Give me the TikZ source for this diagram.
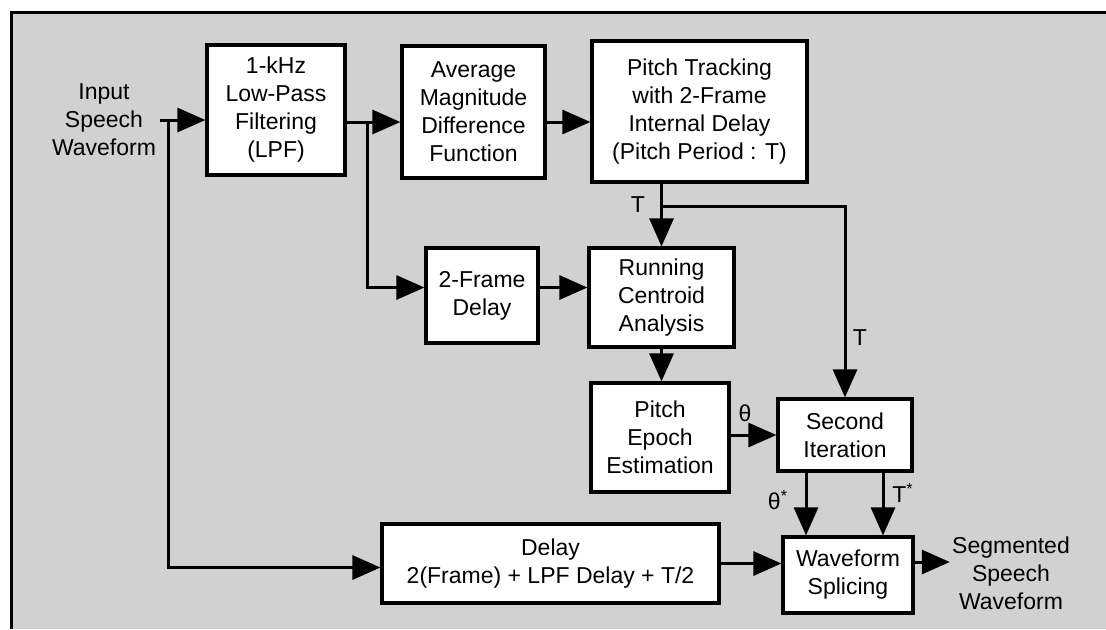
\documentclass[tikz,border=0pt]{standalone}
\usepackage{fontspec}
\setmainfont{Liberation Sans}
\usepackage{tikz}
\usetikzlibrary{arrows.meta}
\usetikzlibrary{calc}

\begin{document}
\begin{tikzpicture}[x=0.5pt,y=-0.5pt,
    block/.style={draw,fill=white,line width=1.6pt,align=center,inner sep=0pt,
        font=\fontsize{11.5}{14}\selectfont},
    lbl/.style={align=center,inner sep=0pt,font=\fontsize{11.5}{14}\selectfont},
    arr/.style={line width=1.5pt,-{Triangle[length=14pt,width=12pt]}}]
    \useasboundingbox (0,0) rectangle (1106,629);
    \fill[black!18] (11,12) rectangle (1106,629);
    \draw[line width=1.5pt] (11,629) -- (11,12) -- (1106,12);

    % blocks
    \node[block,minimum width=69pt,minimum height=65pt] (lpf) at (276,110) {1-kHz\\Low-Pass\\Filtering\\(LPF)};
    \node[block,minimum width=71.5pt,minimum height=66pt] (amdf) at (473.5,112) {Average\\Magnitude\\Difference\\Function};
    \node[block,minimum width=107.5pt,minimum height=70.5pt] (track) at (699.5,111.5) {Pitch Tracking\\with 2-Frame\\Internal Delay\\(Pitch Period : T)};
    \node[block,minimum width=56pt,minimum height=47.5pt] (fdelay) at (482,295.5) {2-Frame\\Delay};
    \node[block,minimum width=72.5pt,minimum height=49.5pt] (centroid) at (661.5,297.5) {Running\\Centroid\\Analysis};
    \node[block,minimum width=69pt,minimum height=54.5pt] (epoch) at (660,437.5) {Pitch\\Epoch\\Estimation};
    \node[block,minimum width=67pt,minimum height=36pt] (second) at (845,435) {Second\\Iteration};
    \node[block,minimum width=65pt,minimum height=38pt] (splice) at (848,575) {Waveform\\Splicing};
    \node[block,minimum width=168.5pt,minimum height=39.5pt] (delay) at (550.5,563.5) {Delay\\2(Frame) + LPF Delay + T/2};

    % input and output
    \node[lbl] (in) at (104,120) {Input\\Speech\\Waveform};
    \node[lbl] (out) at (1011,573) {Segmented\\Speech\\Waveform};

    % labels
    \node[lbl] (tA) at (638,205) {T};
    \node[lbl] (tB) at (860,338) {T};
    \node[lbl] (th) at (745,413) {θ};
    \node[lbl] (thstar) at (778,500) {θ\textsuperscript{*}};
    \node[lbl] (tstar) at (903,493) {T\textsuperscript{*}};

    % taps
    \coordinate (tap1) at (168,120);
    \coordinate (tap2) at (367,122);
    \coordinate (tj) at (661.5,206);

    % connectors
    \draw[arr] ([xshift=2pt]in.east) -- (in.east -| lpf.west);
    \draw[arr] (tap1) |- ([yshift=-2pt]delay.west);
    \draw[arr] ([yshift=-6pt]lpf.east) -- ([yshift=-6pt]lpf.east -| amdf.west);
    \draw[arr] (tap2) |- ([yshift=4pt]fdelay.west);
    \draw[arr] ([yshift=-5pt]amdf.east) -- ([yshift=-5pt]amdf.east -| track.west);
    \draw[arr] ([yshift=4pt]fdelay.east) -- ([yshift=4pt]fdelay.east -| centroid.west);
    \draw[arr] (track.south -| centroid.north) -- (centroid.north);
    \draw[arr] (tj) -| (second.north);
    \draw[arr] (centroid.south) -- (centroid.south |- epoch.north);
    \draw[arr] (epoch.east |- second.west) -- (second.west);
    \draw[arr] ([xshift=-19.5pt]second.south) -- ([xshift=-19.5pt]second.south |- splice.north);
    \draw[arr] ([xshift=19pt]second.south) -- ([xshift=19pt]second.south |- splice.north);
    \draw[arr] (delay.east) -- (delay.east -| splice.west);
    \draw[arr] ([yshift=6.5pt]splice.east) -- ([yshift=6.5pt,xshift=-1pt]splice.east -| out.west);
\end{tikzpicture}
\end{document}
